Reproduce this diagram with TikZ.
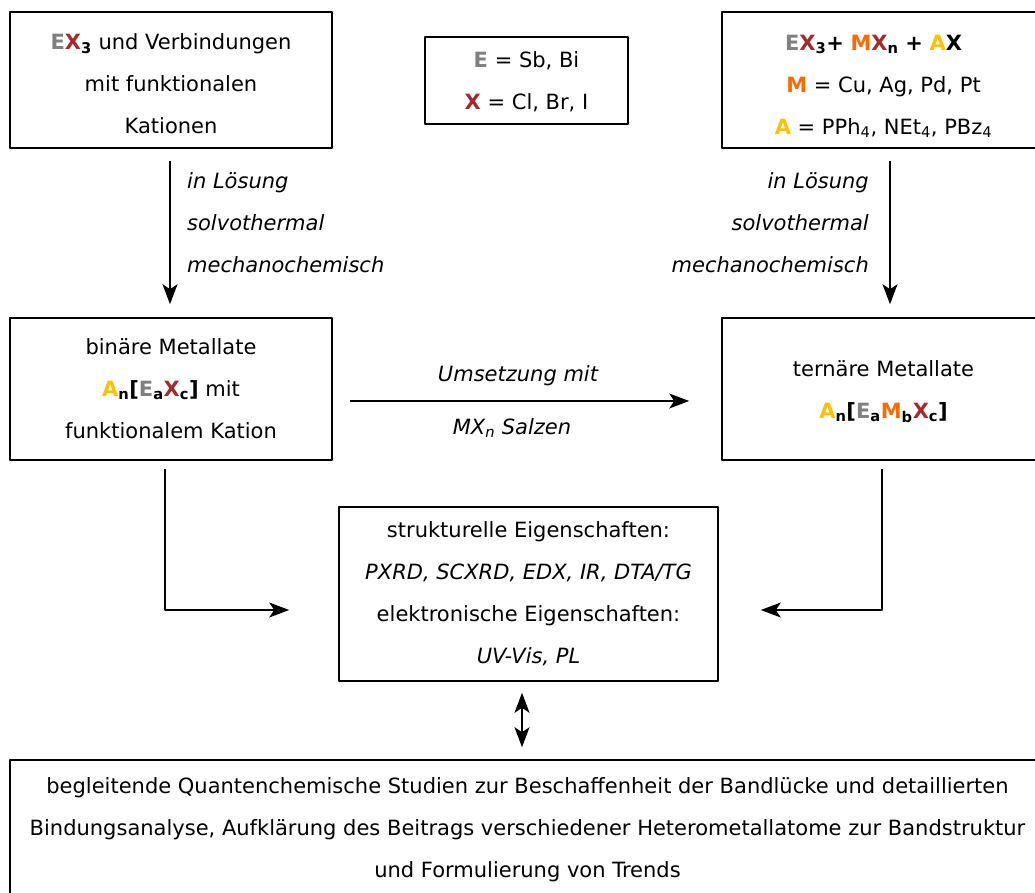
\documentclass[tikz,border=0pt]{standalone}
\usepackage{fontspec}
\setmainfont{DejaVu Sans}
\usepackage{xcolor}
\usetikzlibrary{arrows.meta, calc}
\definecolor{gE}{HTML}{808080}
\definecolor{rX}{HTML}{A52A2A}
\definecolor{oM}{HTML}{FF6A00}
\definecolor{yA}{HTML}{FFC000}
\newcommand{\symE}{\textcolor{gE}{\textbf{E}}}
\newcommand{\symX}{\textcolor{rX}{\textbf{X}}}
\newcommand{\symM}{\textcolor{oM}{\textbf{M}}}
\newcommand{\symA}{\textcolor{yA}{\textbf{A}}}
\newcommand{\bsub}[1]{\textsubscript{\textbf{#1}}}
\newcommand{\padtop}[1]{\rule{0pt}{#1}}

\begin{document}
\begin{tikzpicture}[x=1pt, y=-1pt, line join=round,
	>={Stealth[length=20pt, width=15pt, inset=5pt]},
	box/.style={draw, line width=1.6pt, inner sep=0pt, align=center, font=\fontsize{21}{42}\selectfont},
	txt/.style={inner sep=0pt, font=\fontsize{21}{42}\selectfont\itshape},
	arr/.style={line width=1.3pt, ->},
	darr/.style={line width=1.3pt, <->}]

			% picture size = reference size in px
			\def\picw{1035}
			\def\pich{893}
			\useasboundingbox (0,0) rectangle (\picw,\pich);
		
			% top row: starting materials
			\node[box, minimum width=322pt, minimum height=136pt] (edukt) at (171,80)
				{\padtop{24pt}\symE\symX\bsub{3} und Verbindungen\\mit funktionalen\\Kationen};
			\node[box, minimum width=203pt, minimum height=87pt] (elem) at (526.5,80.5)
				{\padtop{19pt}\symE{} = Sb, Bi\\\symX{} = Cl, Br, I};
			\node[box, minimum width=323pt, minimum height=136pt] (mix) at (883.5,80)
				{\padtop{28pt}\symE\symX\bsub{3}\textbf{+} \symM\symX\bsub{n} \textbf{+} \symA\textbf{X}\hspace*{20pt}\\
				 \symM{} = Cu, Ag, Pd, Pt\\
				 \symA{} = PPh\textsubscript{4}, NEt\textsubscript{4}, PBz\textsubscript{4}};
		
			% middle row: metallates
			\node[box, minimum width=322pt, minimum height=142pt] (binaer) at (171,389)
				{binäre Metallate\\\symA\bsub{n}\textbf{[}\symE\bsub{a}\symX\bsub{c}\textbf{]} mit\\funktionalem Kation};
			\node[box, minimum width=323pt, minimum height=142pt] (ternaer) at (883.5,389)
				{\padtop{21pt}ternäre Metallate\\\symA\bsub{n}\textbf{[}\symE\bsub{a}\symM\bsub{b}\symX\bsub{c}\textbf{]}};
		
			% characterisation
			\node[box, minimum width=379pt, minimum height=174pt] (eigen) at (528.5,594)
				{strukturelle Eigenschaften:\\\textit{PXRD, SCXRD, EDX, IR, DTA/TG}\\elektronische Eigenschaften:\\\textit{UV-Vis, PL}};
		
			% bottom box (runs past the right edge)
			\node[box, minimum width=1035pt, minimum height=136pt] (studien) at (527.5,828)
				{\padtop{20pt}begleitende Quantenchemische Studien zur Beschaffenheit der Bandlücke und detaillierten\\
				 Bindungsanalyse, Aufklärung des Beitrags verschiedener Heterometallatome zur Bandstruktur\\
				 und Formulierung von Trends};
		
			% synthesis routes
			\draw[arr] ($(edukt.south)+(-1,12)$) -- ($(binaer.north)+(-1,-13)$);
			\node[txt, align=left, anchor=west] (wegL) at (187,223) {in Lösung\\solvothermal\\mechanochemisch};
		
			\draw[arr] ($(mix.south)+(6.5,12)$) -- ($(ternaer.north)+(6.5,-13)$);
			\node[txt, align=right, anchor=east] (wegR) at (869,223) {in Lösung\\solvothermal\\mechanochemisch};
		
			% binary -> ternary
			\draw[arr] ($(binaer.east)+(17,12)$) -- ($(ternaer.west)+(-32,12)$);
			\node[txt] (umsetz) at (518,376) {Umsetzung mit};
			\node[txt] (salz) at (512,428) {MX\textsubscript{n} Salzen};
		
			% both metallates -> properties
			\draw[arr] ($(binaer.south)+(-6,8)$) |- ($(eigen.west)+(-49,16)$);
			\draw[arr] ($(ternaer.south)+(-1.5,8)$) |- ($(eigen.east)+(42,16)$);
		
			% properties <-> calculations
			\draw[darr] ($(eigen.south)+(-6.5,11)$) -- ($(studien.north)+(-5.5,-12)$);
		
		\end{tikzpicture}
\end{document}
